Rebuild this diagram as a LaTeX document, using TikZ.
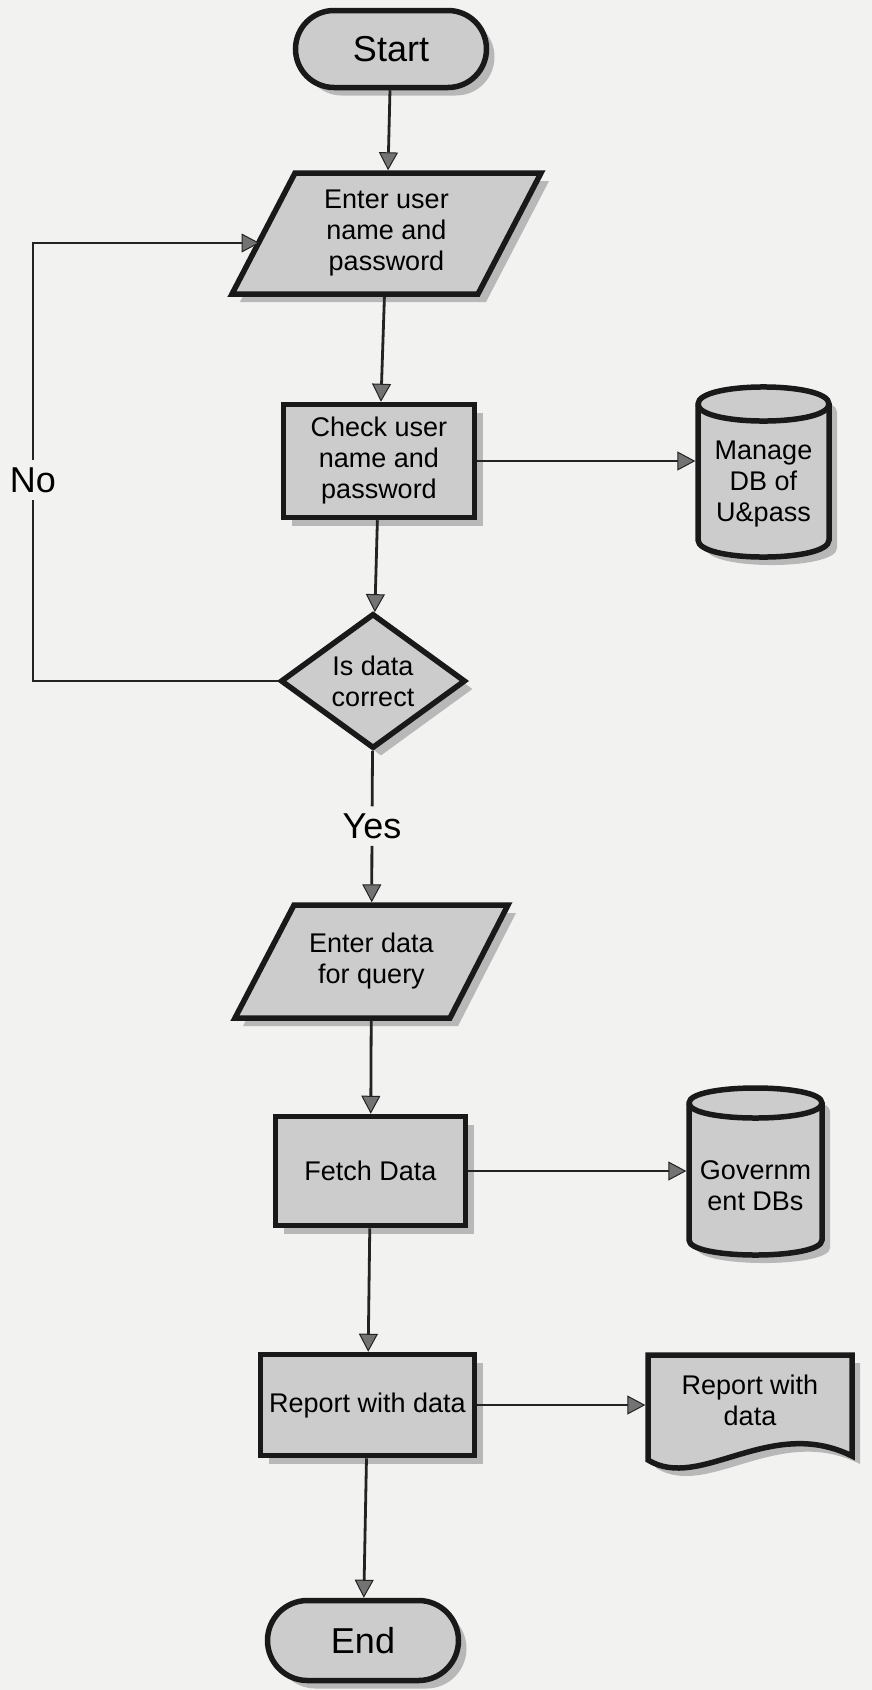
\documentclass[tikz,border=0pt]{standalone}
\usepackage{fontspec}
\setmainfont{Liberation Sans}
\usetikzlibrary{shapes.geometric,shapes.misc,arrows.meta,shadows}
\definecolor{bgc}{RGB}{242,242,240}
\definecolor{boxc}{RGB}{204,204,204}
\definecolor{shc}{RGB}{184,184,184}
\definecolor{tipc}{RGB}{115,115,115}
\definecolor{linec}{RGB}{35,35,35}
\begin{document}
\begin{tikzpicture}[x=1pt,y=-1pt,
  txt/.style={font=\fontsize{27}{31}\selectfont, align=center, inner sep=0pt, text=black},
  bigtxt/.style={font=\fontsize{36}{40}\selectfont, inner sep=7pt, text=black},
  border/.style={draw=black!90, line width=5.5pt, fill=boxc, line join=miter},
  shade/.style={drop shadow={shadow xshift=8pt, shadow yshift=-8pt, fill=shc, opacity=1}},
  terminalbox/.style={txt, border, shade, rounded rectangle, font=\fontsize{36}{40}\selectfont},
  procbox/.style={txt, border, shade, rectangle},
  decisionbox/.style={txt, border, shade, diamond, aspect=1.36},
  ghost/.style={txt, rectangle, outer sep=2.7pt},
  shpath/.style={fill=shc, xshift=8pt, yshift=-8pt},
  conn/.style={draw=linec, line width=2.8pt, -{Triangle[length=18pt,width=19pt,fill=tipc,line width=1pt]}},
  plainline/.style={draw=linec, line width=2.8pt},
]
\useasboundingbox (0,0) rectangle (872,1690);
\fill[bgc] (0,0) rectangle (872,1690);

% Start
\node[terminalbox, minimum width=191pt, minimum height=77pt] (start) at (391,49) {Start};

% Parallelogram 1
\fill[shpath] (295,173) -- (541,173) -- (478,294) -- (232,294) -- cycle;
\draw[border] (295,173) -- (541,173) -- (478,294) -- (232,294) -- cycle;
\node[ghost, minimum width=246pt, minimum height=121pt] (p1) at (386.5,233.5) {Enter user\\name and\\password};
\coordinate (noin) at (259.5,243);

% Check box
\node[procbox, minimum width=191pt, minimum height=113pt] (check) at (379,461) {Check user\\name and\\password};

% Cylinder 1
\fill[shpath] (698,404) -- (698,540) .. controls (698,562.7) and (829,562.7) .. (829,540) -- (829,404) .. controls (829,381.3) and (698,381.3) .. cycle;
\draw[border] (698,404) -- (698,540) .. controls (698,562.7) and (829,562.7) .. (829,540) -- (829,404) .. controls (829,381.3) and (698,381.3) .. cycle;
\draw[border, fill=none] (698,404) .. controls (698,426.7) and (829,426.7) .. (829,404);
\node[ghost, minimum width=131pt, minimum height=150pt] (cyl1) at (763.5,484) {Manage\\DB of\\U\&pass};

% Decision
\node[decisionbox, minimum width=185pt, minimum height=135pt] (dia) at (373,681) {Is data\\correct};

% labels
\node[bigtxt] (no) at (33,480) {No};
\node[bigtxt] (yes) at (372,826) {Yes};

% Parallelogram 2
\fill[shpath] (294,905) -- (508,905) -- (450,1018) -- (235,1018) -- cycle;
\draw[border] (294,905) -- (508,905) -- (450,1018) -- (235,1018) -- cycle;
\node[ghost, minimum width=214pt, minimum height=113pt] (p2) at (371.5,961.5) {Enter data\\for query};

% Fetch
\node[procbox, minimum width=190pt, minimum height=109pt] (fetch) at (370.5,1171) {Fetch Data};

% Cylinder 2
\fill[shpath] (689,1103) -- (689,1240) .. controls (689,1260) and (822,1260) .. (822,1240) -- (822,1103) .. controls (822,1083) and (689,1083) .. cycle;
\draw[border] (689,1103) -- (689,1240) .. controls (689,1260) and (822,1260) .. (822,1240) -- (822,1103) .. controls (822,1083) and (689,1083) .. cycle;
\draw[border, fill=none] (689,1103) .. controls (689,1123) and (822,1123) .. (822,1103);
\node[ghost, minimum width=133pt, minimum height=130pt] (cyl2) at (755.5,1186) {Governm\\ent DBs};

% Report
\node[procbox, minimum width=214pt, minimum height=101pt] (report) at (367.5,1405) {Report with data};

% Document
\fill[shpath] (648,1355) -- (852,1355) -- (852,1456) .. controls (770,1415) and (700,1492) .. (648,1460) -- cycle;
\draw[border] (648,1355) -- (852,1355) -- (852,1456) .. controls (770,1415) and (700,1492) .. (648,1460) -- cycle;
\node[ghost, minimum width=204pt, minimum height=90pt] (doc) at (750,1400) {Report with\\data};

% End
\node[terminalbox, minimum width=191pt, minimum height=80pt] (stop) at (363,1640.5) {End};

% Connectors
\draw[conn] (start) -- (p1);
\draw[conn] (p1) -- (check);
\draw[conn] (check.east) -- (check.east -| cyl1.west);
\draw[conn] (check) -- (dia);
\draw[plainline] (dia.west) -| (no.south);
\draw[conn] (no.north) |- (noin);
\draw[plainline] (dia) -- (yes);
\draw[conn] (yes) -- (p2);
\draw[conn] (p2) -- (fetch);
\draw[conn] (fetch.east) -- (fetch.east -| cyl2.west);
\draw[conn] (fetch) -- (report);
\draw[conn] (report.east) -- (report.east -| doc.west);
\draw[conn] (report) -- (stop);
\end{tikzpicture}
\end{document}
